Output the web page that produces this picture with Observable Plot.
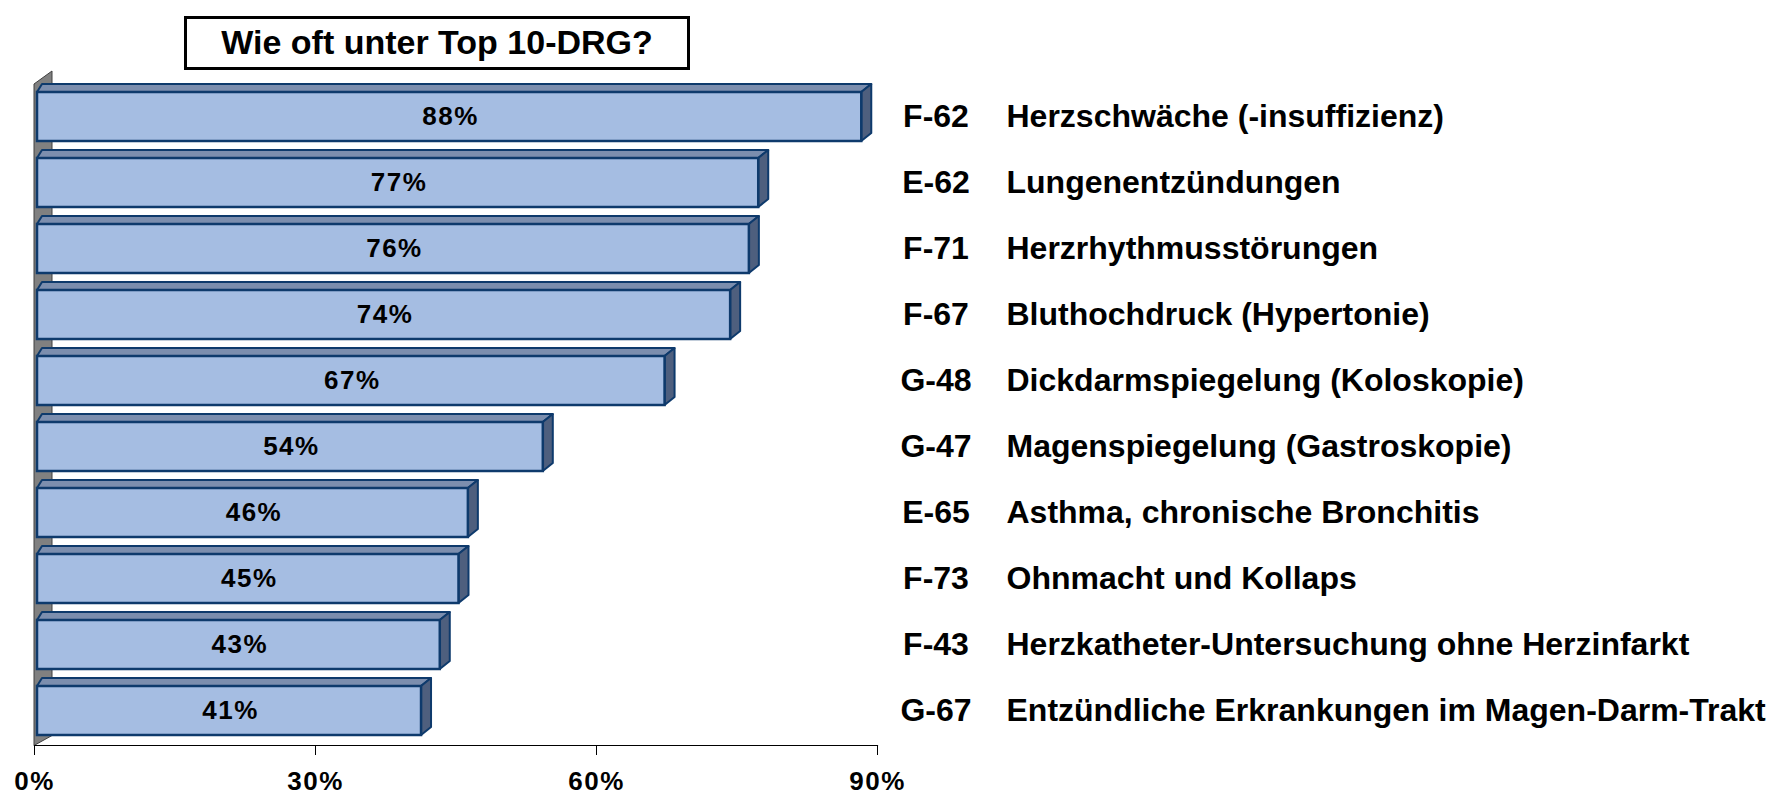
<!DOCTYPE html>
<html><head><meta charset="utf-8">
<script src="https://cdn.jsdelivr.net/npm/d3@7"></script>
<script src="https://cdn.jsdelivr.net/npm/@observablehq/plot@0.6"></script>
<style>
body{margin:0;background:#fff;font-family:"Liberation Sans",Arial,sans-serif;}
#wrap{position:relative;width:1778px;height:794px;}
#title{position:absolute;left:184px;top:16px;width:506px;height:54px;box-sizing:border-box;border:3px solid #000;background:#fff;display:flex;align-items:center;justify-content:center;font-weight:bold;font-size:34px;z-index:2;color:#000;padding-bottom:2px}
.vlab text, .xt text{letter-spacing:1.5px}
</style></head><body>
<div id="wrap"><div id="title"></div><div id="chart"></div></div>
<script>
const titleText = "Wie oft unter Top 10-DRG?";
const codes = ["F-62","E-62","F-71","F-67","G-48","G-47","E-65","F-73","F-43","G-67"];
const names = [
  "Herzschwäche (-insuffizienz)",
  "Lungenentzündungen",
  "Herzrhythmusstörungen",
  "Bluthochdruck (Hypertonie)",
  "Dickdarmspiegelung (Koloskopie)",
  "Magenspiegelung (Gastroskopie)",
  "Asthma, chronische Bronchitis",
  "Ohnmacht und Kollaps",
  "Herzkatheter-Untersuchung ohne Herzinfarkt",
  "Entzündliche Erkrankungen im Magen-Darm-Trakt"
];
const values = [0.88,0.77,0.76,0.74,0.67,0.54,0.46,0.45,0.43,0.41];
const xTicks = [0,0.3,0.6,0.9];

const data = codes.map((c,i)=>({code:c,name:names[i],value:values[i]}));
document.getElementById("title").textContent = titleText;
const pct = d3.format(".0%");

function draw3d(index, scales) {
  const x = scales.x, y = scales.y;
  const bw = y.bandwidth();
  const g = d3.create("svg:g");
  const x0 = x(0);
  const base = y.range()[1] + 0.5;
  const top = y.range()[0];
  g.append("polygon")
    .attr("points", [[x0, base],[x0, top+3],[x0+18, top-10],[x0+18, base-10]].join(" "))
    .attr("fill", "#808080").attr("stroke", "#404040").attr("stroke-width", 1);
  for (const i of index) {
    const d = data[i];
    const xl = x(0) + 3, xr = x(d.value) + 3;
    const yt = y(d.code), yb = yt + bw;
    g.append("polygon")
      .attr("points", [[xl, yt],[xr, yt],[xr+10, yt-8],[xl+5, yt-8]].join(" "))
      .attr("fill", "#7C8EAE").attr("stroke", "#0E3A6C").attr("stroke-width", 2).attr("stroke-linejoin","round");
    g.append("polygon")
      .attr("points", [[xr, yt],[xr+10, yt-8],[xr+10, yb-8],[xr, yb]].join(" "))
      .attr("fill", "#4E5F7E").attr("stroke", "#0E3A6C").attr("stroke-width", 2).attr("stroke-linejoin","round");
    g.append("rect")
      .attr("x", xl).attr("y", yt).attr("width", xr - xl).attr("height", bw)
      .attr("fill", "#A5BDE2").attr("stroke", "#0E3A6C").attr("stroke-width", 2.5);
  }
  return g.node();
}

const chart = Plot.plot({
  width: 1778,
  height: 794,
  marginLeft: 34,
  marginRight: 901,
  marginTop: 81,
  marginBottom: 49,
  style: {fontFamily: '"Liberation Sans", Arial, sans-serif', background: "white", color: "black", overflow: "visible"},
  x: {domain: [0, 0.9], label: null},
  y: {domain: codes, paddingInner: 0.26, paddingOuter: 0.13, axis: null},
  marks: [
    Plot.barX(data, {x: "value", y: "code", render: draw3d}),
    Plot.frame({anchor: "bottom", stroke: "black", strokeWidth: 1.2}),
    Plot.axisX(xTicks, {tickFormat: pct, tickSize: 10, tickPadding: 16, fontSize: 26, fontWeight: "bold", className: "xt", label: null, fill: "black", stroke: "black"}),
    Plot.text(data, {x: d => d.value / 2, y: "code", text: d => pct(d.value), dx: 4, fontSize: 26, fontWeight: "bold", fill: "black", className: "vlab"}),
    Plot.text(data, {y: "code", text: "code", frameAnchor: "right", dx: 58.5, textAnchor: "middle", fontSize: 32, fontWeight: "bold", fill: "black"}),
    Plot.text(data, {y: "code", text: "name", frameAnchor: "right", dx: 129, textAnchor: "start", fontSize: 32, fontWeight: "bold", fill: "black"})
  ]
});
document.getElementById("chart").appendChild(chart);
</script>
</body></html>
